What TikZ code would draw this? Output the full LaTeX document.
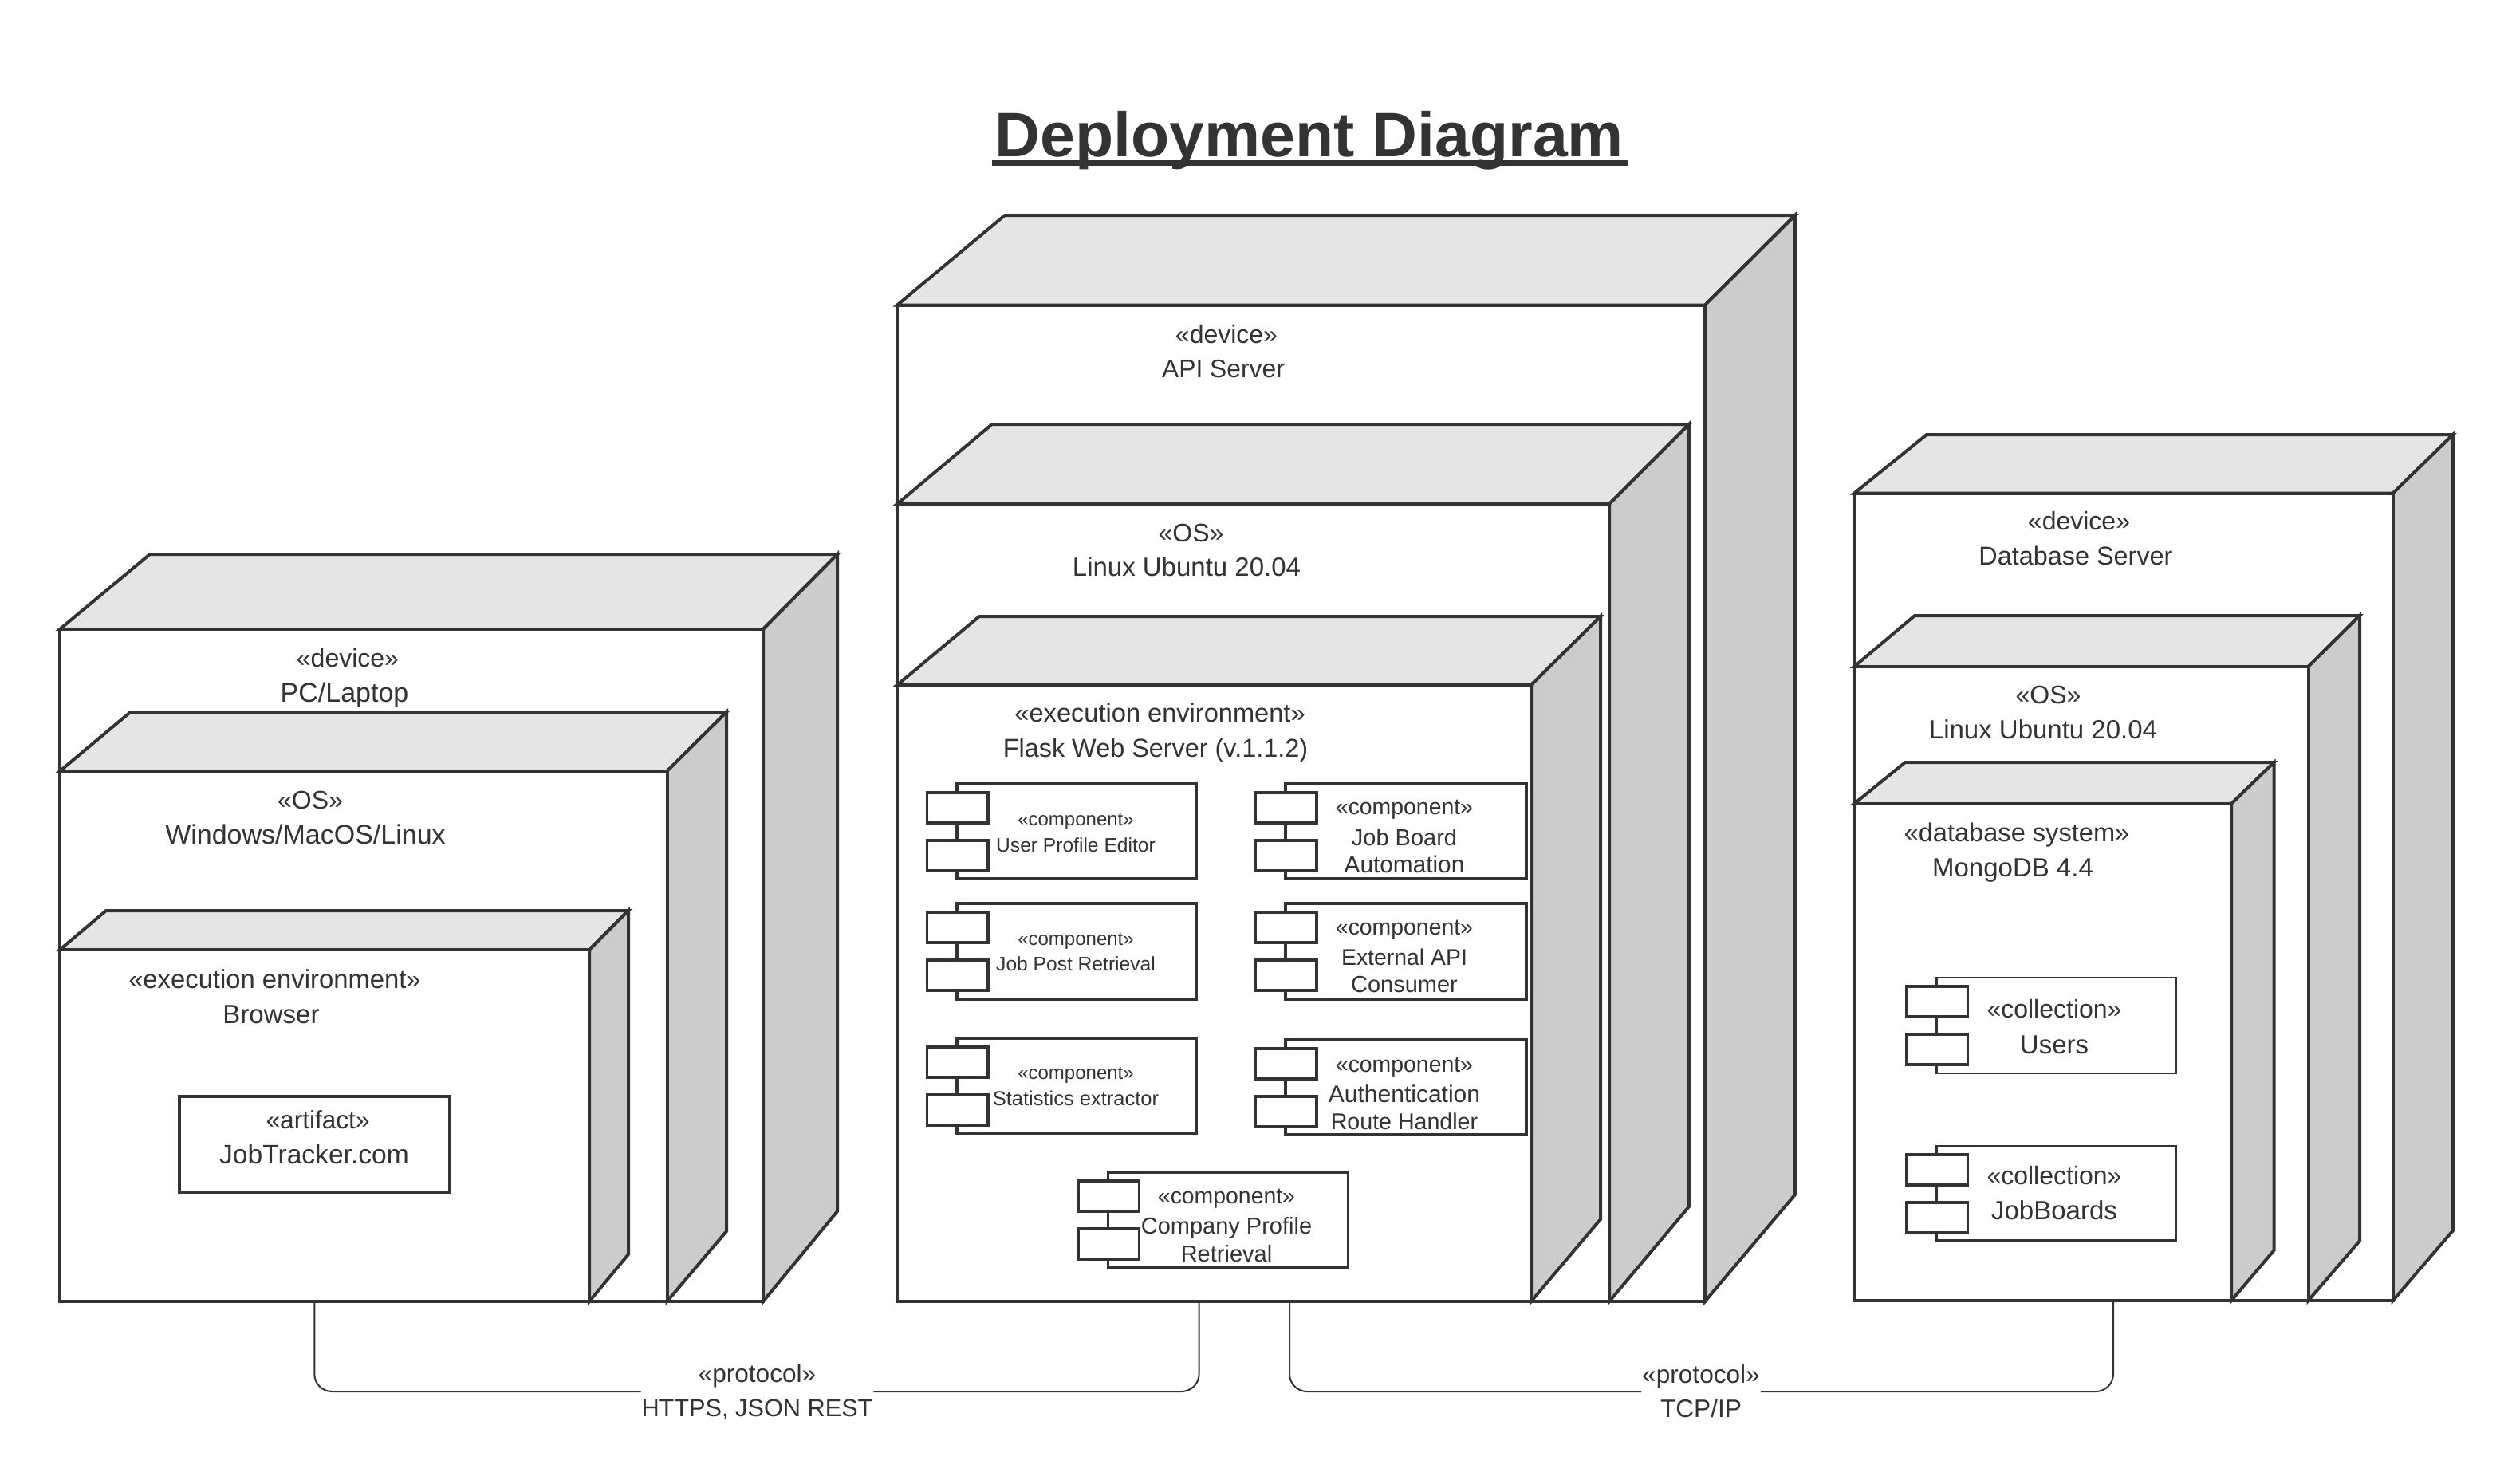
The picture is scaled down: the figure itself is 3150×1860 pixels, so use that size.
\documentclass[tikz,border=0pt]{standalone}
\usepackage{fontspec}
\setmainfont{Liberation Sans}
\definecolor{ink}{HTML}{333333}
\definecolor{topface}{HTML}{E5E5E5}
\definecolor{sideface}{HTML}{CCCCCC}
\newcommand{\fs}[1]{\fontsize{#1}{20}\selectfont}
\tikzset{
  x=0.5pt,y=-0.5pt,
  frontbox/.style={draw=ink,fill=white,line width=2pt,inner sep=0pt,outer sep=0pt,miter limit=10},
  topbox/.style={draw=ink,fill=topface,line width=2pt,line join=miter},
  sidebox/.style={draw=ink,fill=sideface,line width=2pt,line join=miter},
  compbody/.style={draw=ink,fill=white,line width=1.7pt,inner sep=0pt,outer sep=0pt},
  tabbox/.style={draw=ink,fill=white,line width=1.7pt,inner sep=0pt,outer sep=0pt},
  lbl/.style={text=ink,inner sep=0pt,outer sep=0pt,font=\fs{16.5},text height=0.72em,text depth=0em,yshift=-2pt},
  lblsm/.style={lbl,font=\fs{12.3},yshift=1pt},
  lblmd/.style={lbl,font=\fs{14.5},yshift=0.5pt},
  conn/.style={draw=ink,line width=1pt,rounded corners=11pt},
  proto/.style={text=ink,inner xsep=0.5pt,inner ysep=0pt,outer sep=0pt,align=center,font=\fontsize{15.8}{21.5}\selectfont},
  titlelbl/.style={text=ink,inner sep=0pt,outer sep=0pt,font=\fontsize{39.4}{46}\bfseries\selectfont,anchor=base},
  rulestyle/.style={draw=ink,line width=3.5pt}
}
% name, left, top, right, bottom, back-left x, back-top y, back-right x, back-bottom y
\newcommand{\cube}[9]{%
  \pgfmathsetmacro{\cw}{(#4-#2)*0.5}\pgfmathsetmacro{\ch}{(#5-#3)*0.5}%
  \pgfmathsetmacro{\cx}{(#2+#4)/2}\pgfmathsetmacro{\cy}{(#3+#5)/2}%
  \path[topbox] (#2,#3) -- (#6,#7) -- (#8,#7) -- (#4,#3) -- cycle;
  \path[sidebox] (#4,#3) -- (#8,#7) -- (#8,#9) -- (#4,#5) -- cycle;
  \node[frontbox,minimum width=\cw pt,minimum height=\ch pt] (#1) at (\cx,\cy) {};
}
% name, left, top, right, bottom
\newcommand{\comp}[5]{%
  \pgfmathsetmacro{\cw}{(#4-#2)*0.5}\pgfmathsetmacro{\ch}{(#5-#3)*0.5}%
  \pgfmathsetmacro{\cx}{(#2+#4)/2}\pgfmathsetmacro{\cy}{(#3+#5)/2}%
  \node[compbody,minimum width=\cw pt,minimum height=\ch pt] (#1) at (\cx,\cy) {};
  \pgfmathsetmacro{\tx}{#2+0.75}\pgfmathsetmacro{\tya}{#3+30}\pgfmathsetmacro{\tyb}{#3+90}%
  \node[tabbox,minimum width=38.25pt,minimum height=19pt] (#1a) at (\tx,\tya) {};
  \node[tabbox,minimum width=38.25pt,minimum height=19pt] (#1b) at (\tx,\tyb) {};
}
\begin{document}
\begin{tikzpicture}
\useasboundingbox[fill=white] (0,0) rectangle (3150,1860);

\node[titlelbl] (title) at (1642,196) {Deployment Diagram};
\coordinate (ula) at (1244,204.5);
\coordinate (ulb) at (2041,204.5);
\draw[rulestyle] (ula) -- (ulb);

% PC / Laptop
\cube{pcdev}{75}{789}{957}{1632}{188}{695}{1050}{1519}
\node[lbl,font=\fs{16}] (pcdevA) at (436,825) {«device»};
\node[lbl,font=\fs{17}] (pcdevB) at (432,869) {PC/Laptop};
\cube{pcos}{75}{967}{836.5}{1632}{163.5}{893}{911}{1544}
\node[lbl,font=\fs{16}] (pcosA) at (389,1003) {«OS»};
\node[lbl,font=\fs{17}] (pcosB) at (383,1047) {Windows/MacOS/Linux};
\cube{pcexec}{75}{1191}{739}{1632}{133}{1142}{788}{1573}
\node[lbl,font=\fs{16.4}] (pcexA) at (344.5,1228) {«execution environment»};
\node[lbl] (pcexB) at (340,1272) {Browser};
\node[frontbox,minimum width=169.25pt,minimum height=59.75pt] (art) at (394.25,1434.75) {};
\node[lbl,font=\fs{15.8}] (artA) at (398.6,1404) {«artifact»};
\node[lbl,font=\fs{16.8}] (artB) at (394,1448) {JobTracker.com};

% API Server
\cube{apidev}{1125}{382.6}{2138}{1632}{1260}{270}{2251}{1498}
\node[lbl,font=\fs{16}] (apidevA) at (1538,419) {«device»};
\node[lbl,font=\fs{15.9}] (apidevB) at (1534,462) {API Server};
\cube{apios}{1125}{632}{2018}{1632}{1244}{532}{2118}{1513}
\node[lbl,font=\fs{16}] (apiosA) at (1493.5,668) {«OS»};
\node[lbl] (apiosB) at (1488,711) {Linux Ubuntu 20.04};
\cube{apiexec}{1125}{859}{1920}{1632}{1228}{773}{2007}{1529}
\node[lbl,font=\fs{16.3}] (apiexA) at (1454.6,894) {«execution environment»};
\node[lbl,font=\fs{16.2}] (apiexB) at (1449,938) {Flask Web Server (v.1.1.2)};

\comp{cA}{1200}{983}{1500.5}{1102}
\node[lblsm,font=\fs{12}] (cAa1) at (1349,1026) {«component»};
\node[lblsm] (cAa2) at (1349,1059) {User Profile Editor};
\comp{cB}{1612}{983}{1914}{1102}
\node[lblmd,font=\fs{14.2}] (cBa1) at (1761,1011.5) {«component»};
\node[lblmd] (cBa2) at (1761,1050) {Job Board};
\node[lblmd,font=\fs{14.9}] (cBa3) at (1761,1084) {Automation};
\comp{cC}{1200}{1133}{1500.5}{1253}
\node[lblsm,font=\fs{12}] (cCa1) at (1349,1176) {«component»};
\node[lblsm] (cCa2) at (1349,1208.5) {Job Post Retrieval};
\comp{cD}{1612}{1133}{1914}{1253}
\node[lblmd,font=\fs{14.2}] (cDa1) at (1761,1162) {«component»};
\node[lblmd,font=\fs{14.2}] (cDa2) at (1761,1200) {External API};
\node[lblmd] (cDa3) at (1761,1234) {Consumer};
\comp{cE}{1200}{1302}{1500.5}{1421}
\node[lblsm,font=\fs{12}] (cEa1) at (1349,1344.5) {«component»};
\node[lblsm,font=\fs{12.75}] (cEa2) at (1349,1377) {Statistics extractor};
\comp{cF}{1612}{1304}{1914}{1422.5}
\node[lblmd,font=\fs{14.2}] (cFa1) at (1761,1334) {«component»};
\node[lblmd,font=\fs{15}] (cFa2) at (1761,1372.6) {Authentication};
\node[lblmd,font=\fs{14.3}] (cFa3) at (1761,1406.5) {Route Handler};
\comp{cG}{1389.5}{1470}{1690.5}{1589.6}
\node[lblmd,font=\fs{14.2}] (cGa1) at (1538,1499.5) {«component»};
\node[lblmd] (cGa2) at (1538,1537) {Company Profile};
\node[lblmd] (cGa3) at (1538,1572) {Retrieval};

% Database Server
\cube{dbdev}{2325}{618.6}{3000.6}{1631}{2416}{545}{3076}{1543}
\node[lbl,font=\fs{16}] (dbdevA) at (2607,653) {«device»};
\node[lbl,font=\fs{16.2}] (dbdevB) at (2603,697) {Database Server};
\cube{dbos}{2325}{836}{2894.5}{1631}{2401}{772}{2959}{1556}
\node[lbl,font=\fs{16}] (dbosA) at (2568.5,871.5) {«OS»};
\node[lbl] (dbosB) at (2562,915) {Linux Ubuntu 20.04};
\cube{dbsys}{2325}{1008}{2798}{1631}{2389}{956}{2851.5}{1568}
\node[lbl,font=\fs{16.3}] (dbsysA) at (2529,1044) {«database system»};
\node[lbl] (dbsysB) at (2524,1088) {MongoDB 4.4};
\begin{scope}[compbody/.append style={line width=1.4pt}]
\comp{colA}{2428.5}{1226}{2729}{1346}
\comp{colB}{2428.5}{1437}{2729}{1555.5}
\end{scope}
\node[lbl,font=\fs{16}] (colAa) at (2576,1265.5) {«collection»};
\node[lbl] (colAb) at (2576,1310) {Users};
\node[lbl,font=\fs{16}] (colBa) at (2576,1474.5) {«collection»};
\node[lbl] (colBb) at (2576,1518) {JobBoards};

% Connectors
\node[proto] (protoA) at (949.5,1745) {«protocol»\\\fontsize{15.35}{21.5}\selectfont HTTPS, JSON REST};
\node[proto] (protoB) at (2133,1745) {«protocol»\\TCP/IP};
\coordinate (apiL) at (1503.6,1632);
\coordinate (apiR) at (1617,1632);
\coordinate (dbB) at (2650,1631);
\draw[conn] (pcexec.south -| art.south) |- (protoA.west);
\draw[conn] (apiL) |- (protoA.east);
\draw[conn] (apiR) |- (protoB.west);
\draw[conn] (dbB) |- (protoB.east);
\end{tikzpicture}
\end{document}
